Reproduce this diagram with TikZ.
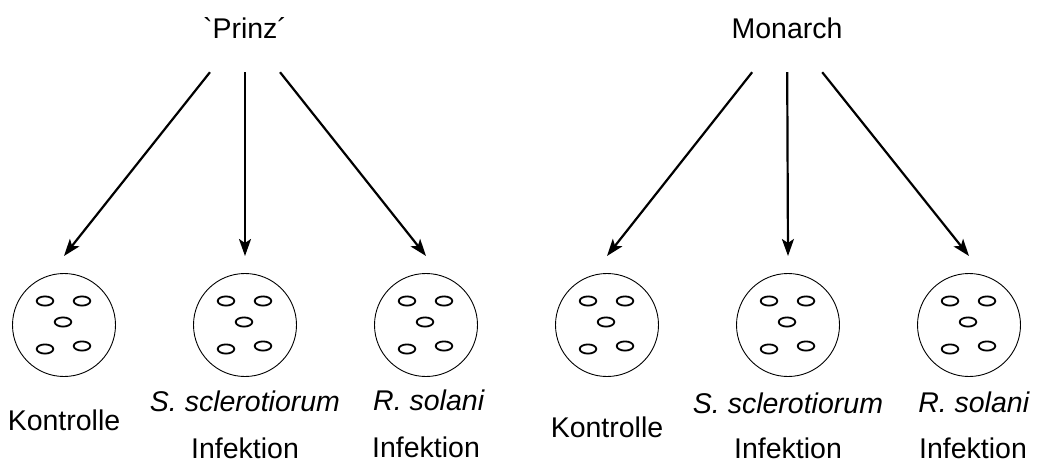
\documentclass[tikz,border=0pt]{standalone}
\usepackage{fontspec}
\newfontfamily\arialfont{Liberation Sans}
\usepackage{tikz}
\usetikzlibrary{shapes,arrows.meta}
\tikzstyle{sorte} = [font=\arialfont\fontsize{28.5}{34}\selectfont, minimum height=88pt, inner sep=0pt]
\tikzstyle{schale} = [draw, circle, line width=0.9pt, minimum size=103pt, inner sep=0pt,
path picture={\foreach \dx/\dy in {-19/24, 18/24, -1/3, -19/-24, 18/-21}
  \draw [line width=1.8pt] ([shift={(\dx,\dy)}]path picture bounding box.center) ellipse [x radius=8.3pt, y radius=4.6pt];}]
\tikzstyle{beschr} = [font=\arialfont\fontsize{28.5}{34}\selectfont]
\tikzstyle{pfeil} = [-{Stealth[length=17pt, width=12pt, inset=4pt]}, line width=2.2pt]

\begin{document}
\begin{tikzpicture}[x=1pt, y=1pt]
		\useasboundingbox (0,0) rectangle (1040,-463);

		\node [sorte] (prinz) at (245,-28) {`Prinz´};
		\node [sorte, right of=prinz, node distance=542pt] (monarch) {Monarch};

		\node [schale] (pk) at (64,-325) {};
		\node [schale, right of=pk, node distance=181pt] (ps) {};
		\node [schale, right of=ps, node distance=181pt] (pr) {};
		\node [schale, right of=pr, node distance=181pt] (mk) {};
		\node [schale, right of=mk, node distance=181pt] (ms) {};
		\node [schale, right of=ms, node distance=181pt] (mr) {};

		\coordinate [above of=pk, node distance=69pt] (pk_a);
		\coordinate [above of=ps, node distance=69pt] (ps_a);
		\coordinate [above of=pr, node distance=69pt] (pr_a);
		\coordinate [above of=mk, node distance=69pt] (mk_a);
		\coordinate [above of=ms, node distance=69pt] (ms_a);
		\coordinate [above of=mr, node distance=69pt] (mr_a);

		\draw [pfeil] (prinz) -- (pk_a);
		\draw [pfeil] (prinz) -- (ps_a);
		\draw [pfeil] (prinz) -- (pr_a);
		\draw [pfeil] (monarch) -- (mk_a);
		\draw [pfeil] (monarch) -- (ms_a);
		\draw [pfeil] (monarch) -- (mr_a);

		\node [beschr, below of=pk, node distance=95pt] (pk_t) {Kontrolle};
		\node [beschr, below of=ps, node distance=76pt] (ps_t) {\textit{S. sclerotiorum}};
			\node [beschr, below of=ps_t, node distance=47pt] (ps_i) {Infektion};
		\node [beschr, below of=pr, node distance=75pt, xshift=3pt] (pr_t) {\textit{R. solani}};
			\node [beschr, below of=pr, node distance=122pt] (pr_i) {Infektion};

		\node [beschr, below of=mk, node distance=102pt] (mk_t) {Kontrolle};
		\node [beschr, below of=ms, node distance=78pt] (ms_t) {\textit{S. sclerotiorum}};
			\node [beschr, below of=ms_t, node distance=45pt] (ms_i) {Infektion};
		\node [beschr, below of=mr, node distance=77pt, xshift=5pt] (mr_t) {\textit{R. solani}};
			\node [beschr, below of=mr, node distance=123pt, xshift=4pt] (mr_i) {Infektion};
\end{tikzpicture}
\end{document}
